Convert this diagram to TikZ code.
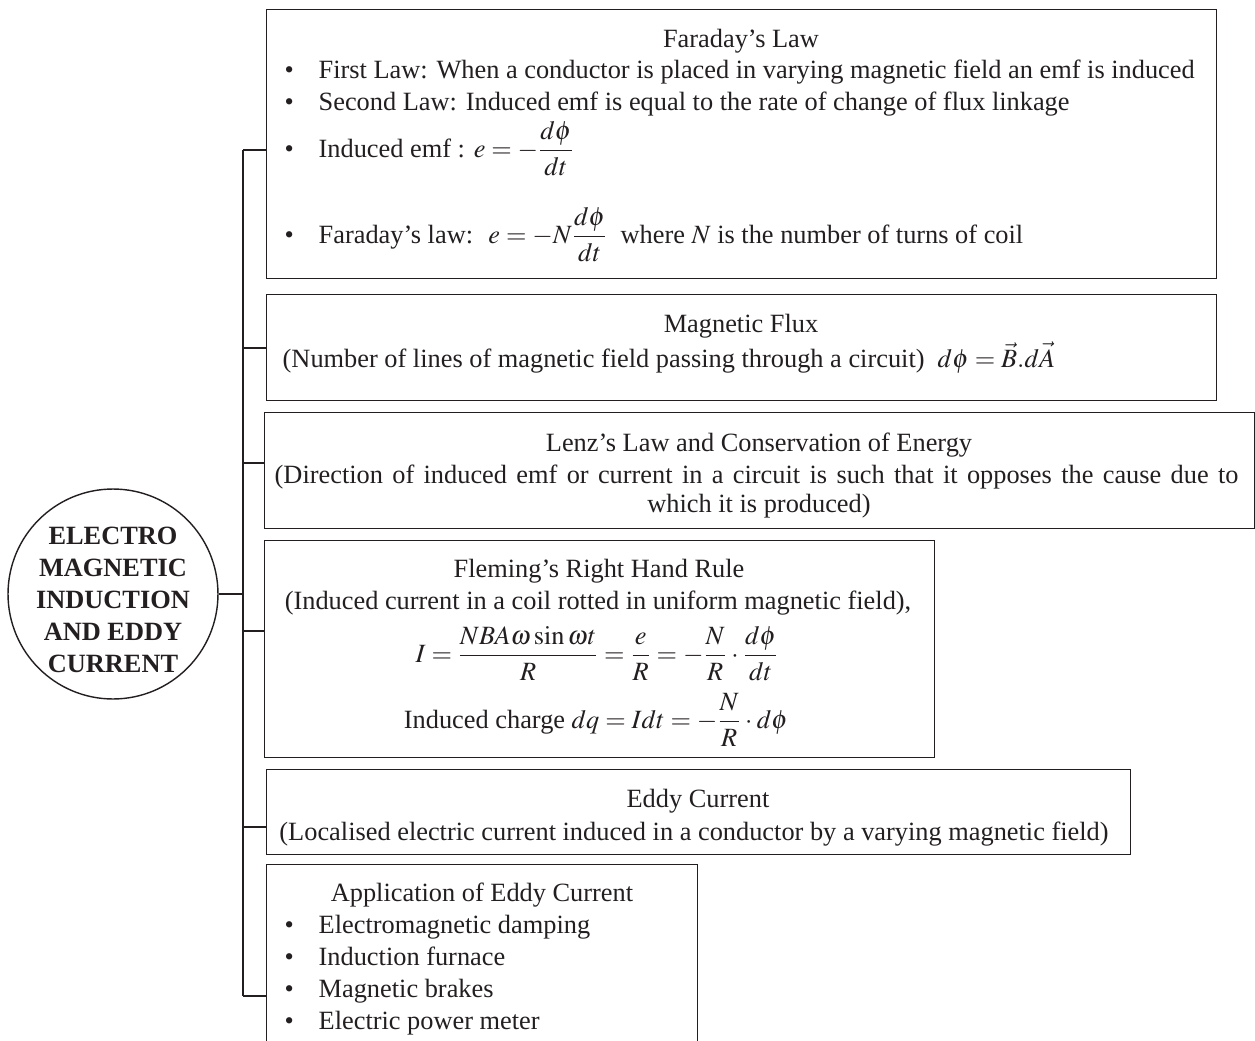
\documentclass[tikz,border=0pt]{standalone}
\usepackage{amsmath}
\usepackage{mathptmx}
\usepackage[no-math]{fontspec}
\setmainfont{Liberation Serif}
\usetikzlibrary{positioning,calc}
\definecolor{ink}{HTML}{231f20}
\newcommand{\bul}{\makebox[0.68cm][l]{\textbullet}}
\thickmuskip=4mu plus 2mu
\medmuskip=3mu plus 1mu

\begin{document}
\begin{tikzpicture}[x=0.02cm,y=-0.02cm,color=ink,line width=0.8pt,
  font=\fontsize{15}{18}\selectfont,
  panel/.style={draw,anchor=north west,inner sep=0pt},
  line/.style={anchor=base west,inner sep=0pt},
  mid/.style={anchor=base,inner sep=0pt},
  hub/.style={draw,circle,minimum size=4.2cm,inner sep=0pt},
  hubtext/.style={align=center,inner sep=0pt,
              font=\fontsize{15}{18.2}\selectfont\bfseries}]
  \useasboundingbox (0,0) rectangle (1255,1041);
  \clip (0,0) rectangle (1255,1041);

  % the hub
  \node[hub] (hub) at (113,594) {};
  \node[hubtext] (hubT) at (113,600) {ELECTRO\\MAGNETIC\\INDUCTION\\AND EDDY\\CURRENT};

  % panels
  \node[panel,minimum width=19cm,minimum height=5.38cm] (faraday) at (266,9) {};
  \node[panel,minimum width=19cm,minimum height=2.12cm] (flux) at (266,294) {};
  \node[panel,minimum width=19.8cm,minimum height=2.32cm] (lenz) at (264,412) {};
  \node[panel,minimum width=13.4cm,minimum height=4.34cm] (fleming) at (264,540) {};
  \node[panel,minimum width=17.28cm,minimum height=1.7cm] (eddy) at (266,769) {};
  \node[panel,minimum width=8.62cm,minimum height=3.92cm] (apps) at (266,864) {};

  % Faraday
  \node[mid] (farT) at (741,48) {Faraday's Law};
  \node[line] (far1) at (284,78) {\bul First Law: When a conductor is placed in varying magnetic field an emf is induced};
  \node[line] (far2) at (284,110) {\bul Second Law: Induced emf is equal to the rate of change of flux linkage};
  \node[line] (far3) at (284,157) {\bul Induced emf : $e=-\dfrac{d\phi}{dt}$};
  \node[line] (far4) at (284,243) {\bul Faraday's law: \ $e=-N\dfrac{d\phi}{dt}$ \ where $N$ is the number of turns of coil};

  % flux
  \node[mid] (fluxT) at (741,332) {Magnetic Flux};
  \node[line] (flux1) at (282,367) {(Number of lines of magnetic field passing through a circuit) \ $d\phi=\vec{B}.d\vec{A}$};

  % Lenz
  \node[mid] (lenzT) at (759,451) {Lenz's Law and Conservation of Energy};
  \node[line] (lenz1) at (274,483) {\makebox[19.28cm][s]{(Direction of induced emf or current in a circuit is such that it opposes the cause due to}};
  \node[mid] (lenz2) at (759,512) {which it is produced)};

  % Fleming
  \node[mid] (flemT) at (599,577) {Fleming's Right Hand Rule};
  \node[mid] (flem1) at (598,609) {(Induced current in a coil rotted in uniform magnetic field),};
  \node[mid] (flem2) at (597,662) {$I=\dfrac{NBA\omega\sin\omega t}{R}=\dfrac{e}{R}=-\dfrac{N}{R}\cdot\dfrac{d\phi}{dt}$};
  \node[mid] (flem3) at (596,728) {Induced charge $dq=Idt=-\dfrac{N}{R}\cdot d\phi$};

  % eddy current
  \node[mid] (eddyT) at (698,807) {Eddy Current};
  \node[mid] (eddy1) at (694,840) {(Localised electric current induced in a conductor by a varying magnetic field)};

  % applications
  \node[mid] (appT) at (482,901) {Application of Eddy Current};
  \node[line] (app1) at (284,933) {\bul Electromagnetic damping};
  \node[line] (app2) at (284,965) {\bul Induction furnace};
  \node[line] (app3) at (284,997) {\bul Magnetic brakes};
  \node[line] (app4) at (284,1029) {\bul Electric power meter};

  % trunk and branches
  \coordinate (b1) at (243,150);
  \coordinate (b2) at (243,348);
  \coordinate (b3) at (243,463);
  \coordinate (b4) at (243,631);
  \coordinate (b5) at (243,827);
  \coordinate (b6) at (243,996);
  \draw (b1) -- (b6);
  \draw (hub.east) -- (hub.east -| b1);
  \foreach \b/\n in {b1/faraday,b2/flux,b3/lenz,b4/fleming,b5/eddy,b6/apps}
    \draw (\b) -- (\b -| \n.west);
\end{tikzpicture}
\end{document}
